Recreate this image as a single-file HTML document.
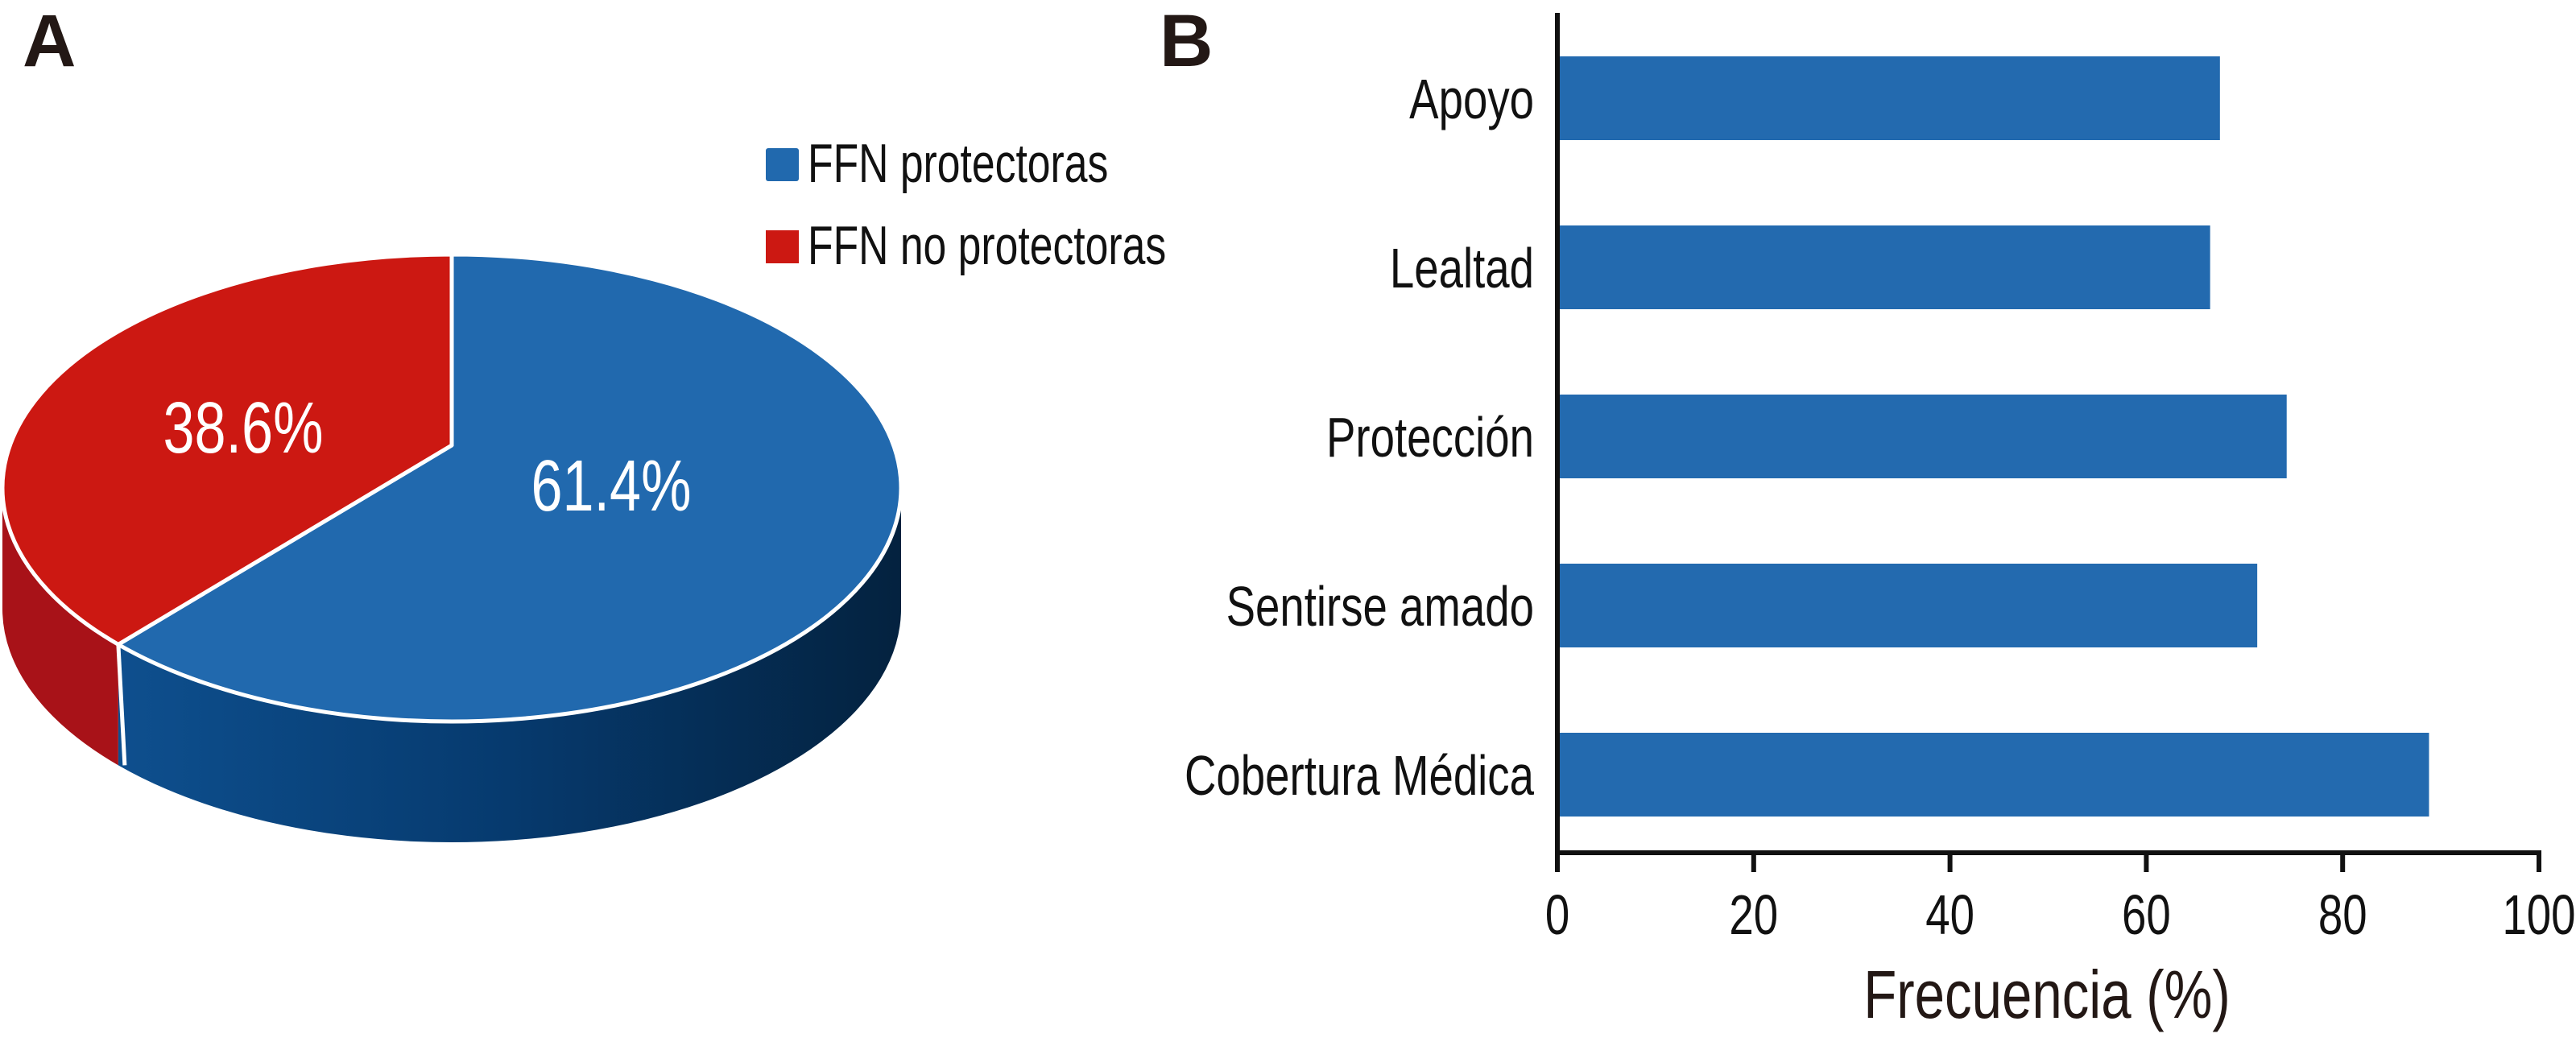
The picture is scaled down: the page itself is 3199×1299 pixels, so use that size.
<!DOCTYPE html>
<html><head><meta charset="utf-8"><style>
html,body{margin:0;padding:0;background:#fff;}
svg{display:block;}
text{font-family:"Liberation Sans Narrow","Liberation Sans",sans-serif;}
</style></head><body>
<svg id="fig" width="3199" height="1299" viewBox="0 0 3199 1299" xmlns="http://www.w3.org/2000/svg">
<defs>
<linearGradient id="blueSide" x1="0" x2="1" y1="0" y2="0">
<stop offset="0" stop-color="#0e4f8e"/><stop offset="0.5" stop-color="#063a6e"/><stop offset="1" stop-color="#04223f"/>
</linearGradient>
</defs>
<text x="28" y="82" font-size="92" font-weight="bold" fill="#231815" style="font-family:'Liberation Sans',sans-serif">A</text>
<text x="1440" y="82" font-size="92" font-weight="bold" fill="#231815" style="font-family:'Liberation Sans',sans-serif">B</text>
<g id="pie"></g>
<g id="legend">
<rect x="951" y="184" width="41" height="41" rx="3" fill="#2169ae"/>
<text class="nar" x="1003" y="226" font-size="68" fill="#111">FFN protectoras</text>
<rect x="951" y="286" width="41" height="41" fill="#cc1812"/>
<text class="nar" x="1003" y="328" font-size="68" fill="#111">FFN no protectoras</text>
</g>
<g id="bars"></g>
</svg>
<script>
const pieLabels = ["FFN protectoras", "FFN no protectoras"];
const pieValues = [61.4, 38.6];
const barCategories = ["Apoyo", "Lealtad", "Protección", "Sentirse amado", "Cobertura Médica"];
const barValues = [67.5, 66.5, 74.3, 71.3, 88.8];
const xTicks = [0, 20, 40, 60, 80, 100];

const NS = "http://www.w3.org/2000/svg";
function mk(tag, attrs, parent){const e=document.createElementNS(NS,tag);for(const k in attrs)e.setAttribute(k,attrs[k]);parent.appendChild(e);return e;}
function narrow(t,f){const w=t.getComputedTextLength();t.setAttribute('textLength',w*f);t.setAttribute('lengthAdjust','spacingAndGlyphs');}

// ---- Pie ----
(function(){
  const g=document.getElementById('pie');
  const cx=561, cy=606, rx=558, ry=290, depth=150, apexY=553;
  const total=pieValues.reduce((a,b)=>a+b,0);
  const frac=pieValues[0]/total;
  const pt=(a)=>[cx+rx*Math.sin(a), cy-ry*Math.cos(a)];
  const endA=frac*2*Math.PI+0.12;
  const [ex,ey]=pt(endA);
  function sidePath(a0,a1){
    const [x0,y0]=pt(a0),[x1,y1]=pt(a1);
    const large=(a1-a0)>Math.PI?1:0;
    return `M${x0},${y0} A${rx},${ry} 0 ${large} 1 ${x1},${y1} L${x1},${y1+depth} A${rx},${ry} 0 ${large} 0 ${x0},${y0+depth} Z`;
  }
  const bs=mk('path',{d:sidePath(Math.PI/2,Math.min(endA,1.5*Math.PI)),fill:'url(#blueSide)'},g);
  
  
  if(endA<1.5*Math.PI){
    const rs=mk('path',{d:sidePath(endA,1.5*Math.PI),fill:'#a81218'},g);
    
    
    mk('line',{x1:ex,y1:ey,x2:ex+8,y2:ey+depth,stroke:'#fff','stroke-width':5},g);
  }
  const [tx,ty]=pt(0);
  const bl=mk('path',{d:`M${cx},${apexY} L${tx},${ty} A${rx},${ry} 0 ${endA>Math.PI?1:0} 1 ${ex},${ey} Z`,fill:'#2169ae',stroke:'#fff','stroke-width':5,'stroke-linejoin':'round'},g);
  
  
  const rd=mk('path',{d:`M${cx},${apexY} L${ex},${ey} A${rx},${ry} 0 ${(2*Math.PI-endA)>Math.PI?1:0} 1 ${tx},${ty} Z`,fill:'#cc1812',stroke:'#fff','stroke-width':5,'stroke-linejoin':'round'},g);
  
  
  const la=mk('text',{x:759,y:634,'font-size':90,fill:'#fff','text-anchor':'middle'},g);
  la.textContent=pieValues[0].toFixed(1)+'%';
  
  
  narrow(la,0.78);
  const lb=mk('text',{x:302,y:562,'font-size':90,fill:'#fff','text-anchor':'middle'},g);
  lb.textContent=pieValues[1].toFixed(1)+'%';
  
  
  narrow(lb,0.78);
})();
document.querySelectorAll('text.nar').forEach(t=>narrow(t,0.76));

// ---- Bars ----
(function(){
  const g=document.getElementById('bars');
  const x0=1934, x1=3153, yTop=16, yBot=1059;
  const X=v=>x0+(v-0)/(100-0)*(x1-x0);
  const firstC=122, step=210, bh=104;
  const Y=i=>firstC+i*step;
  barCategories.forEach((c,i)=>{
    const r=mk('rect',{x:X(0)+3,y:Y(i)-bh/2,width:X(barValues[i])-X(0)-3,height:bh,fill:'#236aaf'},g);
    
    
    const t=mk('text',{x:1905,y:Y(i)+25,'font-size':70,fill:'#111','text-anchor':'end'},g);
    t.textContent=c;
    
    
    narrow(t,0.78);
  });
  const ya=mk('line',{x1:x0,y1:yTop,x2:x0,y2:yBot+3,stroke:'#111','stroke-width':6},g);
  
  
  const xa=mk('line',{x1:x0-3,y1:yBot,x2:x1+3,y2:yBot,stroke:'#111','stroke-width':6},g);
  
  
  xTicks.forEach(v=>{
    const tk=mk('line',{x1:X(v),y1:yBot,x2:X(v),y2:yBot+24,stroke:'#111','stroke-width':6},g);
    
    
    const tl=mk('text',{x:X(v),y:1160,'font-size':70,fill:'#111','text-anchor':'middle'},g);
    tl.textContent=v;
    
    
    narrow(tl,0.78);
  });
  const title=mk('text',{x:2542,y:1264,'font-size':84,fill:'#231815','text-anchor':'middle'},g);
  title.textContent='Frecuencia (%)';
  
  
  narrow(title,0.8);
})();
</script>
</body></html>
